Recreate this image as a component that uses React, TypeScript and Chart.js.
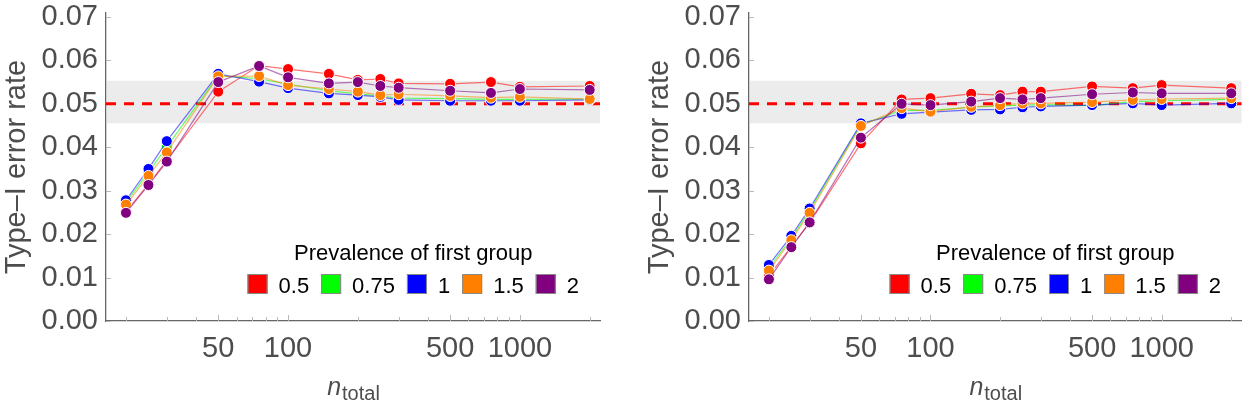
import React, { useEffect, useRef } from "react";
import { Chart, registerables } from "chart.js";

Chart.register(...registerables);

// ---- data ----
const nTotal = [20, 25, 30, 50, 75, 100, 150, 200, 250, 300, 500, 750, 1000, 2000];
const prevalenceLabels = ["0.5", "0.75", "1", "1.5", "2"];
const seriesColors = ["#ff0000", "#00ff00", "#0000ff", "#ff8000", "#800080"];
const lineColors = [
  "rgba(255,0,0,0.55)",
  "rgba(0,255,0,0.6)",
  "rgba(0,0,255,0.55)",
  "rgba(255,128,0,0.55)",
  "rgba(128,0,128,0.55)",
];
const yTickValues = [0, 0.01, 0.02, 0.03, 0.04, 0.05, 0.06, 0.07];
const xTickValues = [20, 30, 40, 50, 60, 70, 80, 90, 100, 200, 300, 400, 500, 600, 700, 800, 900, 1000, 2000];
const xLabelValues = [50, 100, 500, 1000];
const nominalAlpha = 0.05;
const bandLow = 0.0455;
const bandHigh = 0.0553;
const legendTitle = "Prevalence of first group";
const yTitle = "Type–I error rate";
const xTitleMain = "n";
const xTitleSub = "total";

// left panel
const leftP05 = [0.0252, 0.0315, 0.0370, 0.0528, 0.0588, 0.0580, 0.0569, 0.0555, 0.0557, 0.0547, 0.0546, 0.0550, 0.0539, 0.0541];
const leftP075 = [0.0273, 0.0342, 0.0401, 0.0565, 0.0558, 0.0545, 0.0530, 0.0523, 0.0518, 0.0513, 0.0512, 0.0510, 0.0510, 0.0511];
const leftP1 = [0.0278, 0.0350, 0.0414, 0.0569, 0.0551, 0.0536, 0.0524, 0.0520, 0.0516, 0.0509, 0.0507, 0.0507, 0.0507, 0.0509];
const leftP15 = [0.0268, 0.0334, 0.0388, 0.0563, 0.0564, 0.0543, 0.0534, 0.0528, 0.0520, 0.0522, 0.0518, 0.0514, 0.0516, 0.0511];
const leftP2 = [0.0249, 0.0313, 0.0367, 0.0550, 0.0587, 0.0561, 0.0547, 0.0550, 0.0541, 0.0537, 0.0530, 0.0525, 0.0534, 0.0532];

// right panel
const rightP05 = [0.0104, 0.0172, 0.0226, 0.0409, 0.0510, 0.0513, 0.0523, 0.0520, 0.0528, 0.0528, 0.0540, 0.0536, 0.0543, 0.0536];
const rightP075 = [0.0122, 0.0190, 0.0254, 0.0452, 0.0485, 0.0485, 0.0492, 0.0495, 0.0497, 0.0498, 0.0496, 0.0505, 0.0507, 0.0510];
const rightP1 = [0.0129, 0.0196, 0.0259, 0.0455, 0.0477, 0.0481, 0.0486, 0.0487, 0.0492, 0.0494, 0.0497, 0.0501, 0.0497, 0.0501];
const rightP15 = [0.0116, 0.0186, 0.0249, 0.0449, 0.0490, 0.0482, 0.0493, 0.0497, 0.0501, 0.0501, 0.0504, 0.0509, 0.0511, 0.0513];
const rightP2 = [0.0096, 0.0170, 0.0227, 0.0422, 0.0500, 0.0497, 0.0505, 0.0513, 0.0510, 0.0513, 0.0522, 0.0526, 0.0524, 0.0524];

const FONT = "'Liberation Sans', Arial, sans-serif";
const GRAY = "#4d4d4d";

function makeDecor() {
  return {
    id: "decor",
    beforeDatasetsDraw(chart: any) {
      const { ctx, chartArea: a, scales } = chart;
      const y = scales.y;
      const x = scales.x;
      ctx.save();
      // band
      const yh = y.getPixelForValue(bandHigh);
      const yl = y.getPixelForValue(bandLow);
      ctx.fillStyle = "#ececec";
      ctx.fillRect(a.left + 1, yh, a.right - a.left - 1, yl - yh);
      // inner ticks
      ctx.strokeStyle = "#b8b8b8";
      ctx.lineWidth = 1;
      for (const v of xTickValues) {
        const px = Math.round(x.getPixelForValue(v)) + 0.5;
        ctx.beginPath();
        ctx.moveTo(px, a.bottom);
        ctx.lineTo(px, a.bottom - (xLabelValues.includes(v) ? 6 : 4));
        ctx.stroke();
      }
      for (const v of yTickValues) {
        const py = Math.round(y.getPixelForValue(v)) + 0.5;
        ctx.beginPath();
        ctx.moveTo(a.left, py);
        ctx.lineTo(a.left + 5, py);
        ctx.stroke();
      }
      // dashed nominal line
      const yn = y.getPixelForValue(nominalAlpha);
      ctx.strokeStyle = "#ff0000";
      ctx.lineWidth = 3;
      ctx.setLineDash([10, 8]);
      ctx.beginPath();
      ctx.moveTo(a.left, yn);
      ctx.lineTo(a.right, yn);
      ctx.stroke();
      ctx.restore();
    },
    afterDraw(chart: any) {
      const { ctx, chartArea: a } = chart;
      ctx.save();
      // x title
      const cxT = (a.left + a.right) / 2;
      ctx.font = `italic 25px ${FONT}`;
      const wn = ctx.measureText(xTitleMain).width;
      ctx.font = `20px ${FONT}`;
      const wt = ctx.measureText(xTitleSub).width;
      const sx = cxT - (wn + wt) / 2;
      ctx.fillStyle = GRAY;
      ctx.textBaseline = "alphabetic";
      ctx.textAlign = "left";
      ctx.font = `italic 25px ${FONT}`;
      ctx.fillText(xTitleMain, sx, a.bottom + 74);
      ctx.font = `20px ${FONT}`;
      ctx.fillText(xTitleSub, sx + wn + 1, a.bottom + 79);

      // legend
      const cx = a.left + 0.622 * (a.right - a.left);
      ctx.font = `22px ${FONT}`;
      const widths = prevalenceLabels.map((l) => ctx.measureText(l).width);
      const total = widths.reduce((s, w) => s + 20 + 11 + w, 0) + 12 * (widths.length - 1);
      let px = cx - total / 2;
      ctx.fillStyle = "#000";
      ctx.textAlign = "center";
      ctx.fillText(legendTitle, cx, a.bottom - 61);
      ctx.textAlign = "left";
      const by = a.bottom - 47;
      prevalenceLabels.forEach((l, i) => {
        ctx.fillStyle = seriesColors[i];
        ctx.fillRect(px, by, 20, 20);
        ctx.strokeStyle = "#8a8a8a";
        ctx.lineWidth = 1;
        ctx.strokeRect(px + 0.5, by + 0.5, 19, 19);
        ctx.fillStyle = "#000";
        ctx.fillText(l, px + 31, a.bottom - 28);
        px += 20 + 11 + widths[i] + 12;
      });
      ctx.restore();
    },
  };
}

function Panel({ series, left, width }: { series: number[][]; left: number; width: number }) {
  const ref = useRef<HTMLCanvasElement>(null);
  useEffect(() => {
    const canvas = ref.current!;
    const datasets = series.map((data, i) => ({
      label: prevalenceLabels[i],
      data: nTotal.map((x, j) => ({ x, y: data[j] })),
      borderColor: lineColors[i],
      backgroundColor: seriesColors[i],
      pointBackgroundColor: seriesColors[i],
      pointBorderColor: "#ffffff",
      pointBorderWidth: 1,
      pointRadius: 5.5,
      borderWidth: 1.2,
      order: 5 - i,
      fill: false,
      tension: 0,
    }));
    const chart = new Chart(canvas, {
      type: "line",
      data: { datasets } as any,
      options: {
        animation: false,
        responsive: false,
        layout: { padding: { left: 0, top: 13, right: width - 600, bottom: 0 } },
        plugins: { legend: { display: false }, tooltip: { enabled: false } },
        scales: {
          x: {
            type: "logarithmic",
            min: 16.4,
            max: 2215,
            afterBuildTicks: (s: any) => {
              s.ticks = xTickValues.map((v) => ({ value: v }));
            },
            afterFit: (s: any) => {
              s.height = 84;
              s.paddingLeft = 0;
              s.paddingRight = 0;
            },
            grid: { display: false, drawTicks: false },
            border: { display: true, color: "#666", width: 1.3 },
            ticks: {
              autoSkip: false,
              maxRotation: 0,
              padding: 11,
              color: GRAY,
              font: { family: FONT, size: 29 },
              callback: (v: any) => (xLabelValues.includes(Number(v)) ? String(v) : ""),
            },
          },
          y: {
            type: "linear",
            min: 0,
            max: 0.0709,
            afterBuildTicks: (s: any) => {
              s.ticks = yTickValues.map((v) => ({ value: v }));
            },
            afterFit: (s: any) => {
              s.width = 106;
              s.paddingTop = 0;
              s.paddingBottom = 0;
            },
            grid: { display: false, drawTicks: false },
            border: { display: true, color: "#666", width: 1.3 },
            ticks: {
              padding: 8,
              color: GRAY,
              font: { family: FONT, size: 29 },
              callback: (v: any) => Number(v).toFixed(2),
            },
            title: {
              display: true,
              text: yTitle,
              color: GRAY,
              font: { family: FONT, size: 29 },
              padding: 0,
            },
          },
        },
      } as any,
      plugins: [makeDecor()],
    });
    return () => chart.destroy();
  }, []);
  return (
    <div style={{ position: "absolute", left, top: 0, width, height: 405 }}>
      <canvas ref={ref} width={width} height={405} style={{ display: "block" }} />
    </div>
  );
}

export default function App() {
  return (
    <div style={{ position: "fixed", left: 0, top: 0, width: 1248, height: 405, background: "#fff" }}>
      <Panel series={[leftP05, leftP075, leftP1, leftP15, leftP2]} left={0} width={624} />
      <Panel series={[rightP05, rightP075, rightP1, rightP15, rightP2]} left={643} width={605} />
    </div>
  );
}
